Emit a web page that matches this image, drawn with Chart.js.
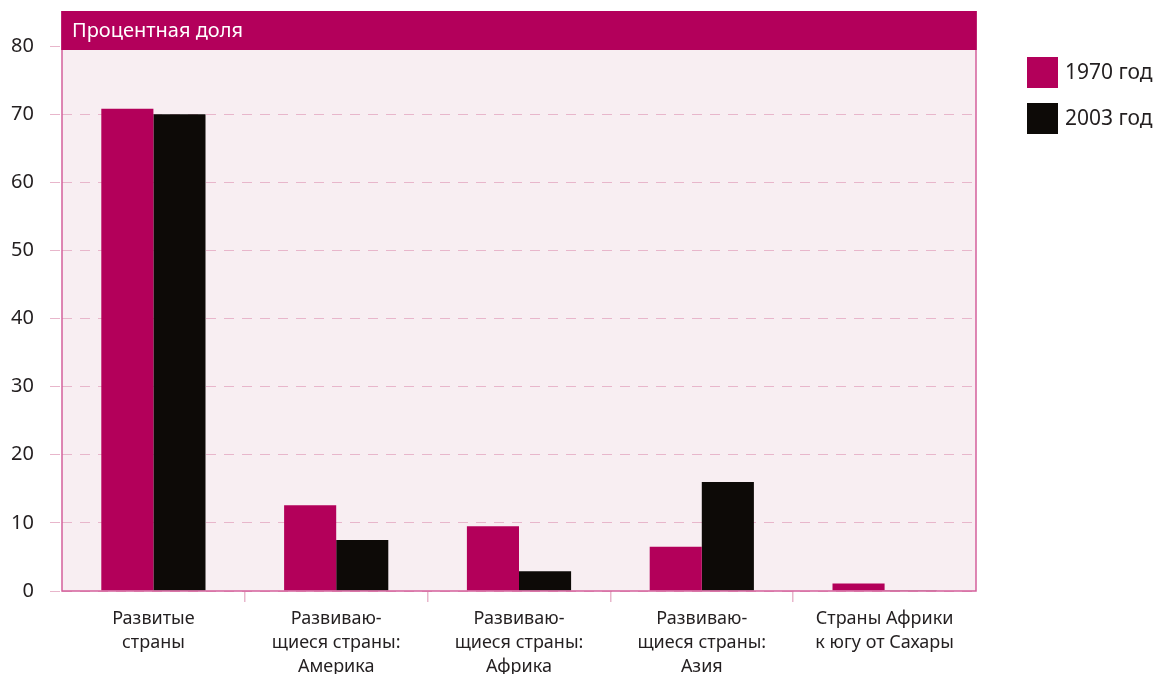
<!DOCTYPE html>
<html>
<head>
<meta charset="utf-8">
<script src="https://cdn.jsdelivr.net/npm/chart.js@4"></script>
<style>
html,body{margin:0;padding:0;background:#fff;}
#wrap{width:1157px;height:674px;position:relative;}
</style>
</head>
<body>
<div id="wrap"><canvas id="c" width="1157" height="674"></canvas></div>
<script>
const categories = [
  ["Развитые", "страны"],
  ["Развиваю-", "щиеся страны:", "Америка"],
  ["Развиваю-", "щиеся страны:", "Африка"],
  ["Развиваю-", "щиеся страны:", "Азия"],
  ["Страны Африки", "к югу от Сахары"]
];
const series1970 = [70.8, 12.6, 9.5, 6.5, 1.1];
const series2003 = [70.0, 7.5, 2.9, 16.0, 0.1];
const seriesNames = ["1970 год", "2003 год"];
const yTicks = [0, 10, 20, 30, 40, 50, 60, 70, 80];
const headerTitle = "Процентная доля";

const MAGENTA = "#b3005a";
const BLACK = "#0d0a07";
const PINK_LINE = "#d4609c";
const GRID = "#e8b6cb";
const FONT = "'Noto Sans', 'Open Sans', sans-serif";
const TEXT = "#231f20";

const framePlugin = {
  id: 'frame',
  beforeDraw(chart) {
    const {ctx, chartArea: a} = chart;
    ctx.save();
    ctx.fillStyle = "#f8eef2";
    ctx.fillRect(a.left, a.top, a.right - a.left, a.bottom - a.top);
    ctx.restore();
  },
  afterDraw(chart) {
    const {ctx, chartArea: a} = chart;
    ctx.save();
    ctx.strokeStyle = PINK_LINE;
    ctx.lineWidth = 1.5;
    ctx.beginPath();
    ctx.moveTo(a.left, 11);
    ctx.lineTo(a.left, a.bottom);
    ctx.lineTo(a.right, a.bottom);
    ctx.lineTo(a.right, 11);
    ctx.stroke();
    ctx.fillStyle = "#b3005b";
    ctx.fillRect(a.left - 0.75, 11, a.right - a.left + 1.5, 39);
    ctx.fillStyle = "#ffffff";
    ctx.font = "20px " + FONT;
    ctx.textBaseline = "alphabetic";
    ctx.fillText(headerTitle, a.left + 10, 37);
    chart.data.datasets.forEach((d, i) => {
      const y = 57 + i * 46;
      ctx.fillStyle = d.backgroundColor;
      ctx.fillRect(1027, y, 31, 31);
      ctx.fillStyle = TEXT;
      ctx.font = "21px " + FONT;
      ctx.textBaseline = "middle";
      ctx.fillText(d.label, 1065, y + 16);
    });
    ctx.restore();
  }
};

new Chart(document.getElementById('c'), {
  type: 'bar',
  data: {
    labels: categories,
    datasets: [
      {label: seriesNames[0], data: series1970, backgroundColor: MAGENTA, borderWidth: 0},
      {label: seriesNames[1], data: series2003, backgroundColor: BLACK, borderWidth: 0}
    ]
  },
  options: {
    responsive: false,
    animation: false,
    layout: {padding: {left: 0, right: 181, top: 46, bottom: 0}},
    plugins: {legend: {display: false}, tooltip: {enabled: false}},
    datasets: {bar: {categoryPercentage: 0.57, barPercentage: 1.0}},
    scales: {
      x: {
        grid: {
          display: true, offset: true, drawOnChartArea: false, tickLength: 11, lineWidth: 1.5,
          color: (c) => (c.type !== 'tick' || !c.index) ? 'rgba(0,0,0,0)' : GRID
        },
        border: {display: false},
        ticks: {color: TEXT, font: {family: FONT, size: 18, lineHeight: 1.33}, padding: 5, maxRotation: 0, autoSkip: false},
        afterFit(s) { s.height = 83; }
      },
      y: {
        min: 0, max: 80,
        afterBuildTicks(s) { s.ticks = yTicks.map(v => ({value: v})); },
        grid: {color: GRID, lineWidth: 1, tickLength: 12, drawTicks: true, tickBorderDash: [10, 8]},
        border: {display: false, dash: [10, 8]},
        ticks: {color: TEXT, font: {family: FONT, size: 20}, padding: 16},
        afterFit(s) { s.width = 62; }
      }
    }
  },
  plugins: [framePlugin]
});
</script>
</body>
</html>
